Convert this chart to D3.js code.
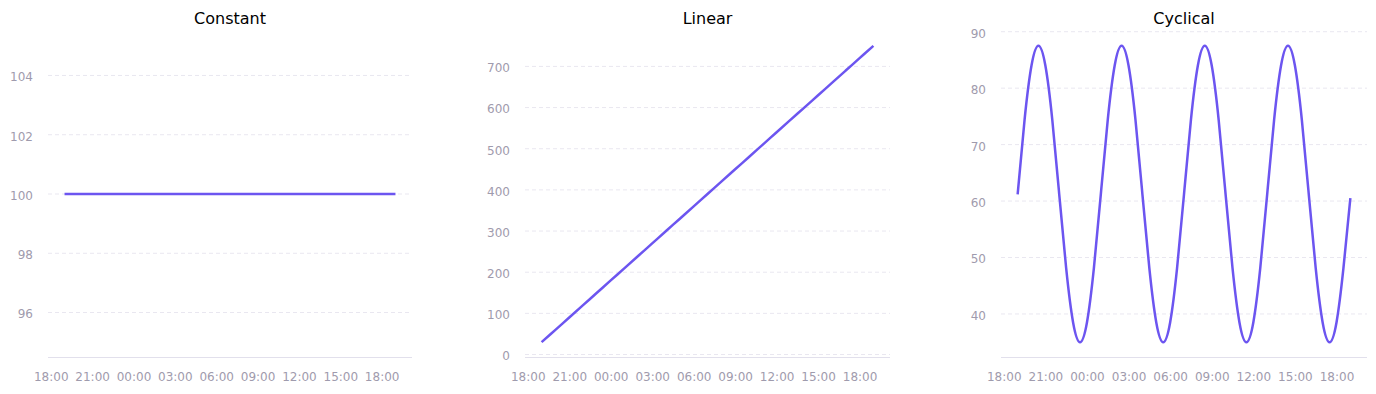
<!DOCTYPE html>
<html>
<head>
<meta charset="utf-8">
<script src="https://cdn.jsdelivr.net/npm/d3@7"></script>
<style>
  body { margin: 0; background: #fff; }
  svg text { font-family: "DejaVu Sans", sans-serif; }
</style>
</head>
<body>
<svg id="chart" width="1376" height="394"></svg>
<script>
// data: one reading per interval, starting 19:00
var titles = ["Constant", "Linear", "Cyclical"];
var startTime = new Date(2024, 0, 1, 19, 0);

var constantValues = [100, 100, 100, 100, 100, 100, 100, 100, 100, 100, 100, 100, 100,
  100, 100, 100, 100, 100, 100, 100, 100, 100, 100, 100, 100];           // hourly
var linearValues = [30, 60, 90, 120, 150, 180, 210, 240, 270, 300, 330, 360, 390,
  420, 450, 480, 510, 540, 570, 600, 630, 660, 690, 720, 750];          // hourly
var cyclicalValues = [                                                    // every 30 min
  61.2, 74.4, 84.0, 87.5, 84.0, 74.4, 61.2, 48.1, 38.5, 35.0, 38.5, 48.1,
  61.2, 74.4, 84.0, 87.5, 84.0, 74.4, 61.2, 48.1, 38.5, 35.0, 38.5, 48.1,
  61.2, 74.4, 84.0, 87.5, 84.0, 74.4, 61.2, 48.1, 38.5, 35.0, 38.5, 48.1,
  61.2, 74.4, 84.0, 87.5, 84.0, 74.4, 61.2, 48.1, 38.5, 35.0, 38.5, 48.1,
  60.5];

var constantTicks = [96, 98, 100, 102, 104];
var linearTicks = [0, 100, 200, 300, 400, 500, 600, 700];
var cyclicalTicks = [40, 50, 60, 70, 80, 90];

var lineColor = "#6c55f0";
var tickColor = "#9f9bad";
var gridColor = "#e9e7f0";

var svg = d3.select("#chart");
var plotTop = 31, plotBottom = 357;

function panel(opts) {
  var data = opts.values.map(function (v, i) {
    return { t: new Date(+startTime + i * opts.stepMin * 60000), v: v };
  });
  var tExt = d3.extent(data, function (d) { return d.t; });
  var vExt = d3.extent(data, function (d) { return d.v; });
  var tPad = (tExt[1] - tExt[0]) * 0.05;
  var vPad = (vExt[1] - vExt[0]) * 0.05 || 5.5;

  var x = d3.scaleTime()
    .domain([new Date(+tExt[0] - tPad), new Date(+tExt[1] + tPad)])
    .range([opts.left, opts.right]);
  var y = d3.scaleLinear()
    .domain([vExt[0] - vPad, vExt[1] + vPad])
    .range([plotBottom, plotTop]);

  var g = svg.append("g");

  // grid
  g.selectAll(".grid").data(opts.ticks).enter().append("line")
    .attr("x1", opts.left).attr("x2", opts.right)
    .attr("y1", function (d) { return y(d); })
    .attr("y2", function (d) { return y(d); })
    .attr("stroke", gridColor)
    .attr("stroke-dasharray", "4,3");

  // y labels
  var yAxis = d3.axisLeft(y).tickValues(opts.ticks).tickSize(0).tickPadding(15);
  var ya = g.append("g").attr("transform", "translate(" + opts.left + ",0)").call(yAxis);
  ya.select(".domain").remove();
  ya.selectAll("text").attr("fill", tickColor).style("font-size", "12px")
    .attr("dy", "0.45em");

  // x axis
  var xAxis = d3.axisBottom(x)
    .ticks(d3.timeHour.every(3))
    .tickFormat(d3.timeFormat("%H:%M"))
    .tickSize(0).tickPadding(15);
  var xa = g.append("g").attr("transform", "translate(0," + plotBottom + ")").call(xAxis);
  xa.select(".domain").attr("stroke", "#e2e0ec").attr("d", "M" + opts.left + ",0.5H" + opts.right);
  xa.selectAll("text").attr("fill", tickColor).style("font-size", "12px");

  // line
  g.append("path")
    .datum(data)
    .attr("fill", "none")
    .attr("stroke", lineColor)
    .attr("stroke-width", 2.5)
    .attr("stroke-linejoin", "round")
    .attr("d", d3.line()
      .curve(d3.curveNatural)
      .x(function (d) { return x(d.t); })
      .y(function (d) { return y(d.v); }));

  // title
  g.append("text")
    .attr("x", (opts.left + opts.right) / 2)
    .attr("y", 24)
    .attr("text-anchor", "middle")
    .style("font-size", "16px")
    .attr("fill", "#000")
    .text(opts.title);
}

panel({ title: titles[0], values: constantValues, stepMin: 60, ticks: constantTicks, left: 48, right: 412 });
panel({ title: titles[1], values: linearValues, stepMin: 60, ticks: linearTicks, left: 525, right: 890 });
panel({ title: titles[2], values: cyclicalValues, stepMin: 30, ticks: cyclicalTicks, left: 1001, right: 1367 });
</script>
</body>
</html>
